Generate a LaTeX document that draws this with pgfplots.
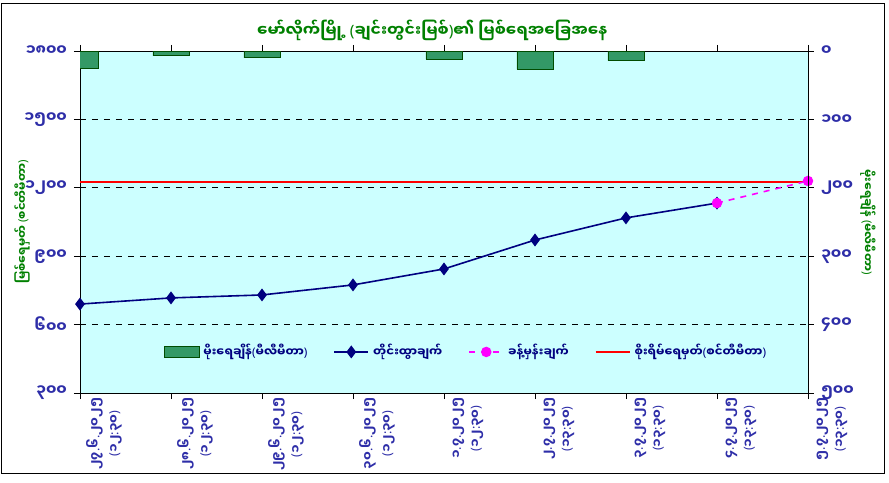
\documentclass[border=0pt]{standalone}
\usepackage{fontspec}
\setmainfont[Script=Myanmar]{Noto Sans Myanmar UI}
\newfontfamily\lat{Noto Sans}
\newcommand\LP{{\lat(}}
\newcommand\RP{{\lat)}}
\newcommand\pd{{\lat.}}
\newcommand\cl{{\lat:}}
\usepackage{pgfplots}
\pgfplotsset{compat=1.18}
\definecolor{plotbg}{HTML}{CCFFFF}
\definecolor{navyline}{HTML}{000080}
\definecolor{barfill}{HTML}{339966}
\definecolor{ttl}{HTML}{008000}
\definecolor{ticktxt}{HTML}{2E2EA8}
\definecolor{estim}{HTML}{FF00FF}

\begin{document}
\begin{tikzpicture}
\pgfplotsset{
  base/.style={
    scale only axis, width=364pt, height=171pt,
    at={(0,0)}, anchor=south west,
    xmin=1, xmax=9, xtick={1,...,9},
    tick style={black, thin}, tick align=outside, major tick length=3pt,
    ticklabel style={text=ticktxt, font=\bfseries\fontsize{7.5}{8}\selectfont},
    label style={text=ttl, font=\bfseries\fontsize{5.8}{7}\selectfont},
  },
}
\useasboundingbox (-40pt,-44.5pt) rectangle (404.5pt,196.5pt);
\draw[black, thin] (-39.5pt,-40pt) rectangle (402pt,195pt);

% water level (left axis)
\begin{axis}[base,
  axis background/.style={fill=plotbg},
  clip mode=individual,
  ymin=300, ymax=1800, ytick={300,600,...,1800},
  yticklabels={၃၀၀,၆၀၀,၉၀၀,၁၂၀၀,၁၅၀၀,၁၈၀၀},
  axis y line*=left,
  ymajorgrids, grid style={black, dashed, thin},
  xticklabels={
    {၂၇\pd၆\pd၂၀၂၅\\\LP၁၂\cl၃၀\RP},{၂၈\pd၆\pd၂၀၂၅\\\LP၁၂\cl၃၀\RP},
    {၂၉\pd၆\pd၂၀၂၅\\\LP၁၂\cl၃၀\RP},{၃၀\pd၆\pd၂၀၂၅\\\LP၁၂\cl၃၀\RP},
    {၁\pd၇\pd၂၀၂၅\\\LP၁၂\cl၃၀\RP},{၂\pd၇\pd၂၀၂၅\\\LP၁၃\cl၃၀\RP},
    {၃\pd၇\pd၂၀၂၅\\\LP၁၃\cl၃၀\RP},{၄\pd၇\pd၂၀၂၅\\\LP၁၃\cl၃၀\RP},
    {၅\pd၇\pd၂၀၂၅\\\LP၁၃\cl၃၀\RP}},
  xticklabel style={rotate=90, anchor=east, align=center, xshift=4pt, yshift=-12pt,
    font=\bfseries\fontsize{6.3}{9.5}\selectfont},
  ylabel={မြစ်ရေမှတ် \LP စင်တီမီတာ\RP},
  ylabel style={at={(axis description cs:-0.0797,0.5)}, anchor=center},
  title={မော်လိုက်မြို့ \LP ချင်းတွင်းမြစ်\RP ၏ မြစ်ရေအခြေအနေ},
  title style={at={(0.484,1)}, anchor=center, yshift=4.5pt, text=ttl,
    font=\bfseries\fontsize{7.8}{9}\selectfont},
]
\addplot[red, thick] coordinates {(1,1225) (9,1225)};
\addplot[navyline, thick, mark=diamond*, mark size=2.6pt]
  coordinates {(1,690) (2,717) (3,730) (4,774) (5,844) (6,971) (7,1068) (8,1133)};
\addplot[estim, thick, dashed, mark=*, mark size=2.2pt, mark options={solid}]
  coordinates {(8,1133) (9,1230)};
\end{axis}

% rainfall (right axis, reversed)
\begin{axis}[base,
  axis y line*=right, axis x line=none,
  ymin=0, ymax=500, y dir=reverse,
  ytick={0,100,...,500},
  yticklabels={၀,၁၀၀,၂၀၀,၃၀၀,၄၀၀,၅၀၀},
  ylabel={မိုးရေချိန် \LP မီလီမီတာ\RP},
  ylabel style={at={(axis description cs:1.0824,0.5)}, anchor=center, rotate=180},
  legend columns=4,
  legend style={at={(0.532,0.12)}, anchor=center, draw=none, fill=none,
    text=navyline, font=\bfseries\fontsize{5.9}{7}\selectfont,
    /tikz/every even column/.append style={column sep=11pt}},
]
\addplot[ybar, bar width=18pt, fill=barfill, draw=black!70!green, area legend]
  coordinates {(1,26) (2,7) (3,10) (5,12) (6,27) (7,14)};
\addlegendentry{မိုးရေချိန်\LP မီလီမီတာ\RP}
\addlegendimage{navyline, thick, mark=diamond*, mark size=2.6pt}
\addlegendentry{တိုင်းထွာချက်}
\addlegendimage{estim, thick, dashed, mark=*, mark size=2.2pt, mark options={solid}}
\addlegendentry{ခန့်မှန်းချက်}
\addlegendimage{red, thick}
\addlegendentry{စိုးရိမ်ရေမှတ်\LP စင်တီမီတာ\RP}
\end{axis}
\end{tikzpicture}
\end{document}
